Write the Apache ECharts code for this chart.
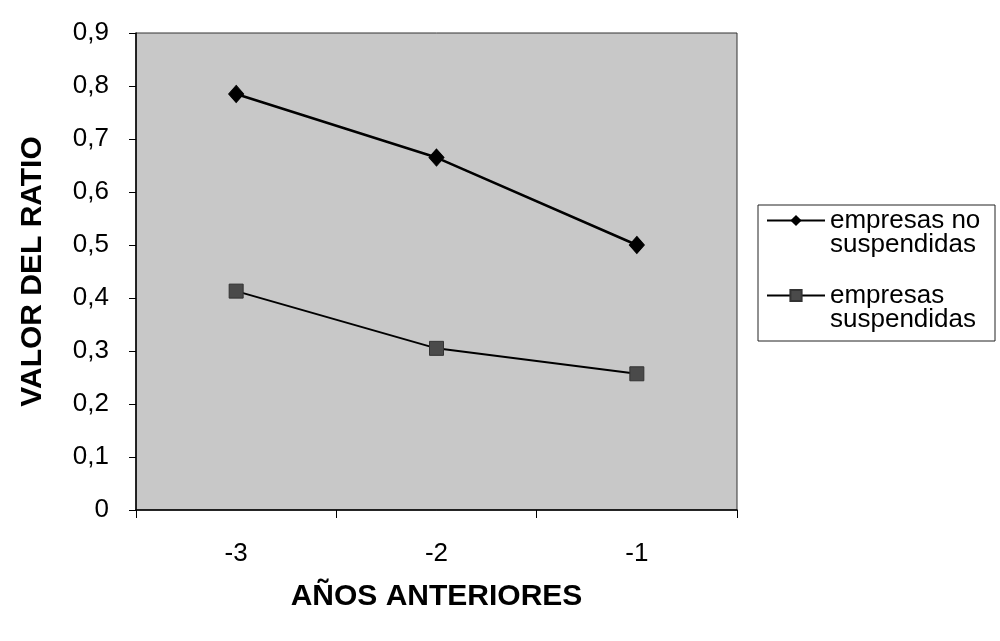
<!DOCTYPE html>
<html>
<head>
<meta charset="utf-8">
<script src="https://cdn.jsdelivr.net/npm/echarts@6/dist/echarts.min.js"></script>
<style>
html,body{margin:0;padding:0;background:#fff;}
#c{width:1000px;height:641px;}
</style>
</head>
<body>
<div id="c"></div>
<script>
const categories = ['-3', '-2', '-1'];
const noSuspendidas = [0.785, 0.665, 0.50];
const suspendidas = [0.413, 0.305, 0.257];
const seriesNames = ['empresas no suspendidas', 'empresas suspendidas'];
const legendLabels = ['empresas no\nsuspendidas', 'empresas\nsuspendidas'];
const yTicks = { min: 0, max: 0.9, interval: 0.1 };

const chart = echarts.init(document.getElementById('c'), null, { renderer: 'canvas' });
const FONT = 'Liberation Sans, Arial, sans-serif';

chart.setOption({
  backgroundColor: '#ffffff',
  animation: false,
  grid: {
    left: 136, right: 263, top: 33, bottom: 131,
    show: true, backgroundColor: '#c8c8c8', borderColor: '#333', borderWidth: 1
  },
  xAxis: {
    type: 'category',
    data: categories,
    boundaryGap: true,
    name: 'AÑOS ANTERIORES',
    nameLocation: 'middle',
    nameGap: 72,
    nameTextStyle: { fontFamily: FONT, fontSize: 30, fontWeight: 'bold', color: '#000' },
    axisLine: { lineStyle: { color: '#000', width: 1.5 } },
    axisTick: { show: true, length: 8, alignWithLabel: false, lineStyle: { color: '#000' } },
    axisLabel: { margin: 31, fontFamily: FONT, fontSize: 26, color: '#000' },
    splitLine: { show: false }
  },
  yAxis: {
    type: 'value',
    min: yTicks.min, max: yTicks.max, interval: yTicks.interval,
    name: 'VALOR DEL RATIO',
    nameLocation: 'middle',
    nameRotate: 90,
    nameGap: 88,
    nameTextStyle: { fontFamily: FONT, fontSize: 30, fontWeight: 'bold', color: '#000' },
    axisLine: { show: true, lineStyle: { color: '#000', width: 1.5 } },
    axisTick: { show: true, length: 7, lineStyle: { color: '#000' } },
    axisLabel: {
      margin: 27, fontFamily: FONT, fontSize: 26, color: '#000',
      formatter: v => (v === 0 ? '0' : v.toFixed(1).replace('.', ','))
    },
    splitLine: { show: false }
  },
  legend: {
    orient: 'vertical',
    left: 766,
    top: 183,
    padding: 0,
    itemGap: 0,
    itemWidth: 58,
    itemHeight: 14,
    borderWidth: 0,
    data: seriesNames,
    formatter: name => ' \n' + legendLabels[seriesNames.indexOf(name)],
    textStyle: { fontFamily: FONT, fontSize: 26, color: '#000', lineHeight: 24.5 }
  },
  graphic: [{
    type: 'rect',
    shape: { x: 758, y: 205, width: 237, height: 136 },
    style: { fill: 'none', stroke: '#222', lineWidth: 1 },
    silent: true, z: 10
  }],
  series: [
    {
      name: seriesNames[0],
      type: 'line',
      data: noSuspendidas,
      symbol: 'diamond',
      symbolSize: [15, 17],
      lineStyle: { color: '#000', width: 2.5 },
      itemStyle: { color: '#000', borderColor: '#000' }
    },
    {
      name: seriesNames[1],
      type: 'line',
      data: suspendidas,
      symbol: 'rect',
      symbolSize: 14,
      lineStyle: { color: '#000', width: 2 },
      itemStyle: { color: '#4a4a4a', borderColor: '#333', borderWidth: 1 }
    }
  ]
});
</script>
</body>
</html>
